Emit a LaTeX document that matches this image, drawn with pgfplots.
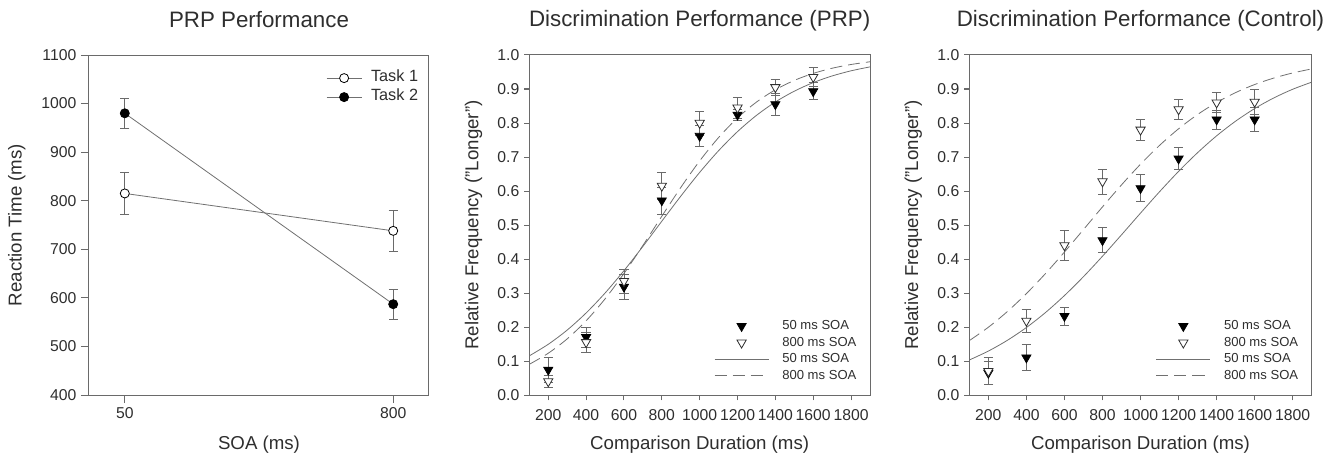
\documentclass[border=0pt]{standalone}
\usepackage{fontspec}
\setmainfont{Liberation Sans}
\usepackage{pgfplots}
\usepackage{pgfplotstable}
\pgfplotsset{compat=1.18}

\definecolor{txt}{HTML}{2E2E2E}
\definecolor{frame}{HTML}{6A6A6A}
\definecolor{curve}{HTML}{707070}

% panel 1: reaction times
\pgfplotstableread{
x   y    e
50  815  43
800 738  43
}\taskone
\pgfplotstableread{
x   y    e
50  980  31
800 587  31
}\tasktwo

% panel 2: PRP condition
\pgfplotstableread{
x    y     e
200  0.074 0.037
400  0.170 0.030
600  0.318 0.037
800  0.572 0.040
1000 0.762 0.030
1200 0.824 0.017
1400 0.855 0.032
1600 0.893 0.025
}\prpfifty
\pgfplotstableread{
x    y     e
200  0.040 0.019
400  0.155 0.030
600  0.335 0.035
800  0.615 0.040
1000 0.800 0.035
1200 0.845 0.031
1400 0.905 0.024
1600 0.935 0.028
}\prpeight
\pgfplotstableread{
x    s      d
100  0.1152 0.0903
200  0.1492 0.1229
300  0.1910 0.1651
400  0.2413 0.2183
500  0.2998 0.2827
600  0.3657 0.3575
700  0.4371 0.4399
800  0.5112 0.5258
900  0.5847 0.6102
1000 0.6547 0.6885
1100 0.7186 0.7573
1200 0.7747 0.8150
1300 0.8224 0.8615
1400 0.8618 0.8977
1500 0.8936 0.9253
1600 0.9188 0.9459
1700 0.9384 0.9611
1800 0.9535 0.9721
1900 0.9651 0.9801
}\prpfit

% panel 3: control condition
\pgfplotstableread{
x    y     e
200  0.065 0.035
400  0.110 0.038
600  0.232 0.026
800  0.455 0.037
1000 0.608 0.040
1200 0.695 0.032
1400 0.810 0.028
1600 0.810 0.035
}\ctrlfifty
\pgfplotstableread{
x    y     e
200  0.070 0.040
400  0.218 0.035
600  0.440 0.043
800  0.628 0.037
1000 0.780 0.031
1200 0.840 0.030
1400 0.860 0.030
1600 0.862 0.038
}\ctrleight
\pgfplotstableread{
x    s      d
100  0.1030 0.1600
200  0.1292 0.1993
300  0.1609 0.2455
400  0.1985 0.2983
500  0.2424 0.3570
600  0.2925 0.4205
700  0.3481 0.4866
800  0.4082 0.5533
900  0.4712 0.6180
1000 0.5351 0.6789
1100 0.5979 0.7342
1200 0.6577 0.7830
1300 0.7128 0.8250
1400 0.7623 0.8604
1500 0.8055 0.8895
1600 0.8425 0.9132
1700 0.8736 0.9321
1800 0.8993 0.9472
1900 0.9202 0.9591
}\ctrlfit

\pgfplotsset{
  panel/.style={
    scale only axis, height=255pt,
    anchor=south west,
    axis line style={frame, line width=0.75pt},
    tick style={frame, line width=0.75pt},
    tick align=outside, xtick pos=bottom, ytick pos=left,
    major tick length=4pt,
    tick label style={font=\fontsize{11.8}{14}\selectfont, text=txt},
    /pgf/number format/assume math mode=true,
    /pgf/number format/1000 sep={},
    label style={font=\fontsize{14}{17}\selectfont, text=txt},
    xlabel style={at={(axis description cs:0.5,-0.145)}, anchor=center},
    title style={font=\fontsize{16.75}{20}\selectfont, text=txt, at={(0.5,1)}, anchor=base, yshift=15pt},
    errs/.style={error bars/.cd, y dir=both, y explicit,
      error bar style={frame, line width=0.6pt},
      error mark options={rotate=90, frame, mark size=3.5pt, line width=0.6pt}},
  },
  discr/.style={
    panel,
    xmin=100, xmax=1900, ymin=0, ymax=1,
    xtick={200,400,...,1800}, ytick={0,0.1,...,1.0},
    xticklabel style={yshift=-3pt},
    yticklabel style={/pgf/number format/.cd, fixed, fixed zerofill, precision=1},
    ylabel style={at={(axis description cs:-0.164,0.5)}, anchor=center},
    xlabel={Comparison Duration (ms)},
    ylabel={Relative Frequency ("Longer")},
    legend image code/.code={\draw[mark repeat=2, mark phase=2, ##1] plot coordinates {(0pt,0pt) (20.25pt,0pt) (40.5pt,0pt)};},
    legend style={draw=none, fill=none, at={(1,0)}, anchor=south east, xshift=-7pt, yshift=6pt,
      font=\fontsize{9.8}{12}\selectfont, text=txt, row sep=0pt,
      nodes={inner sep=0pt, text height=8.8pt, text depth=3.6pt},
      /tikz/every odd column/.append style={column sep=10pt}},
    legend cell align=left,
  },
  fifty/.style={only marks, mark=triangle*, mark size=4pt, mark options={rotate=180, fill=black, draw=black, line width=0.5pt}},
  eight/.style={only marks, mark=triangle*, mark size=4pt, mark options={rotate=180, fill=white, draw=txt, line width=0.6pt}},
}

\begin{document}
\begin{tikzpicture}
\useasboundingbox (0,0) rectangle (1003.5pt,345.75pt);

\begin{axis}[panel, at={(66.75pt,49.5pt)}, width=255pt,
  title={PRP Performance},
  xmin=-50, xmax=900, ymin=400, ymax=1100,
  xtick={50,800}, ytick={400,500,...,1100},
  major tick length=6pt,
  xlabel={SOA (ms)}, ylabel={Reaction Time (ms)},
  ylabel style={at={(axis description cs:-0.212,0.5)}, anchor=center},
  legend image code/.code={\draw[mark repeat=2, mark phase=2, #1] plot coordinates {(0pt,0pt) (13.1pt,0pt) (26.25pt,0pt)};},
  legend style={draw=none, fill=none, at={(1,1)}, anchor=north east, xshift=-5pt, yshift=-8pt,
    font=\fontsize{12.2}{14}\selectfont, text=txt, row sep=0pt,
    nodes={inner sep=0pt, text height=10pt, text depth=4.25pt},
    /tikz/every odd column/.append style={column sep=6.75pt}},
  legend cell align=left]
\addplot[curve, line width=0.6pt, mark=*, mark size=3.4pt, mark options={fill=white, draw=black, line width=0.6pt}, errs]
  table[x=x, y=y, y error=e] {\taskone};
\addlegendentry{Task 1}
\addplot[curve, line width=0.6pt, mark=*, mark size=3.4pt, mark options={fill=black, draw=black, line width=0.6pt}, errs]
  table[x=x, y=y, y error=e] {\tasktwo};
\addlegendentry{Task 2}
\end{axis}

\begin{axis}[discr, at={(397pt,49.5pt)}, width=255.5pt,
  title={Discrimination Performance (PRP)}]
\addplot[fifty, errs] table[x=x, y=y, y error=e] {\prpfifty};
\addlegendentry{50 ms SOA}
\addplot[eight, errs] table[x=x, y=y, y error=e] {\prpeight};
\addlegendentry{800 ms SOA}
\addplot[curve, line width=0.6pt, smooth] table[x=x, y=s] {\prpfit};
\addlegendentry{50 ms SOA}
\addplot[curve, line width=0.6pt, smooth, dash pattern=on 9pt off 4.5pt] table[x=x, y=d] {\prpfit};
\addlegendentry{800 ms SOA}
\end{axis}

\begin{axis}[discr, at={(727pt,49.5pt)}, width=256.8pt,
  title={Discrimination Performance (Control)}]
\addplot[fifty, errs] table[x=x, y=y, y error=e] {\ctrlfifty};
\addlegendentry{50 ms SOA}
\addplot[eight, errs] table[x=x, y=y, y error=e] {\ctrleight};
\addlegendentry{800 ms SOA}
\addplot[curve, line width=0.6pt, smooth] table[x=x, y=s] {\ctrlfit};
\addlegendentry{50 ms SOA}
\addplot[curve, line width=0.6pt, smooth, dash pattern=on 9pt off 4.5pt] table[x=x, y=d] {\ctrlfit};
\addlegendentry{800 ms SOA}
\end{axis}
\end{tikzpicture}
\end{document}
